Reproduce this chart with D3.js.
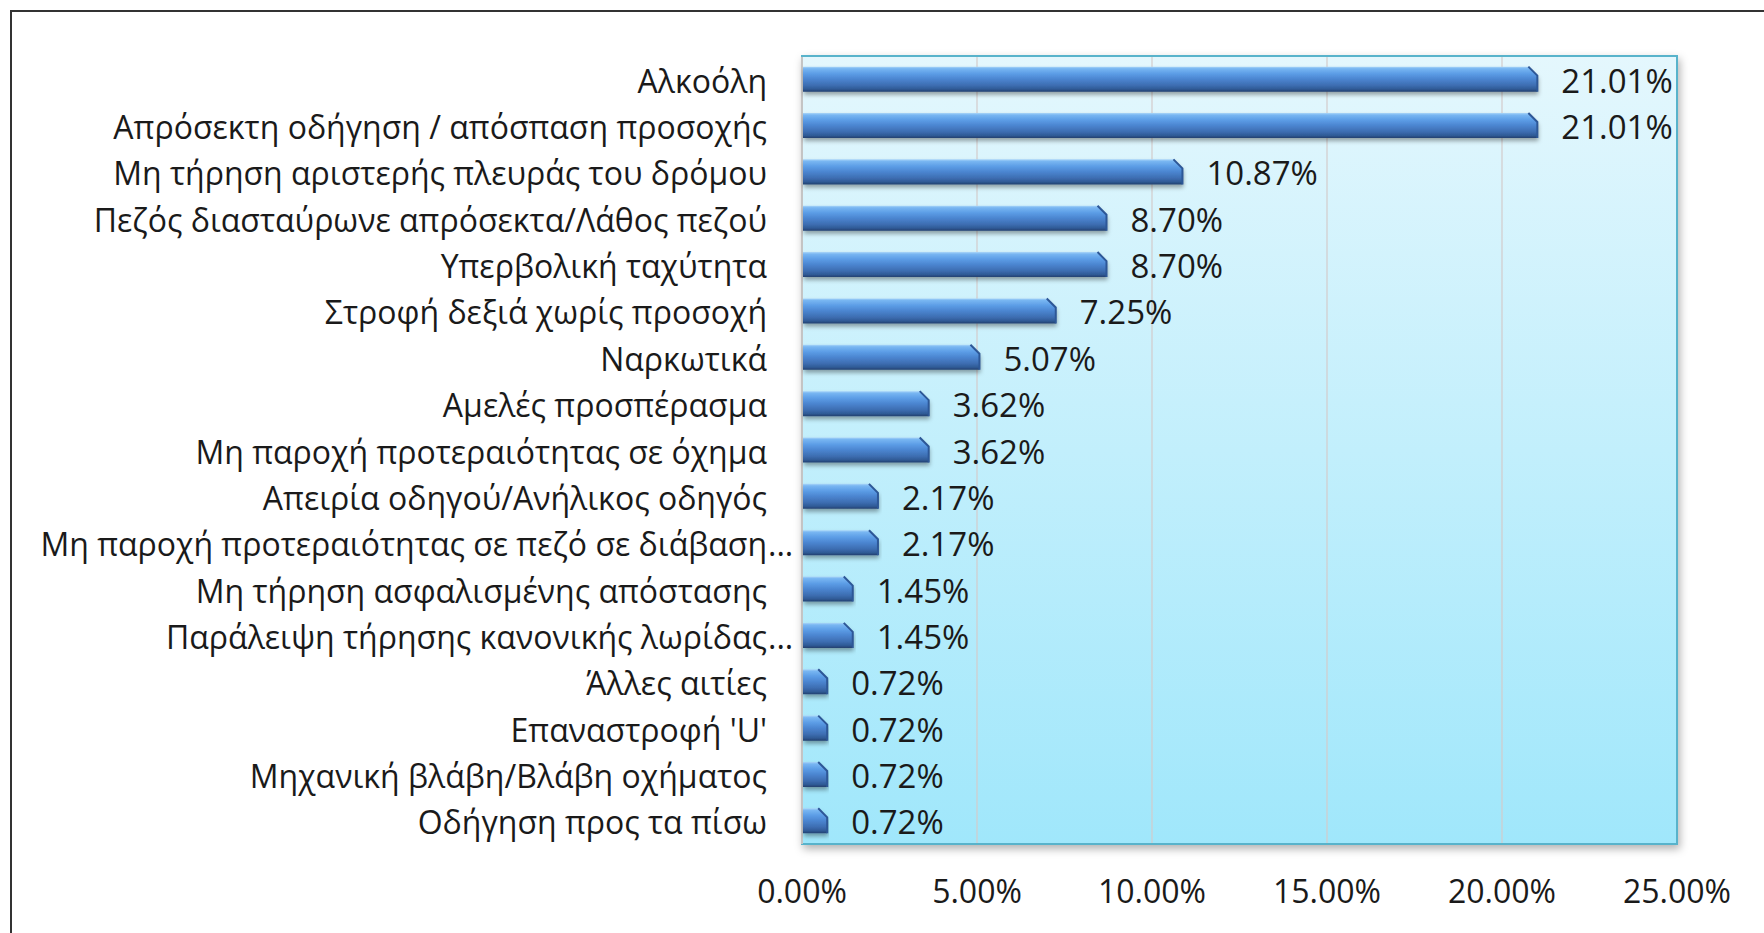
<!DOCTYPE html>
<html>
<head>
<meta charset="utf-8">
<script src="https://cdn.jsdelivr.net/npm/d3@7"></script>
<style>
  body { margin: 0; background: #fff; }
  text { font-family: "Open Sans", "Noto Sans", sans-serif; fill: #1a1a1a; }
</style>
</head>
<body>
<script>
// categories, top to bottom
var categories = [
  "Αλκοόλη",
  "Απρόσεκτη οδήγηση / απόσπαση προσοχής",
  "Μη τήρηση αριστερής πλευράς του δρόμου",
  "Πεζός διασταύρωνε απρόσεκτα/Λάθος πεζού",
  "Υπερβολική ταχύτητα",
  "Στροφή δεξιά χωρίς προσοχή",
  "Ναρκωτικά",
  "Αμελές προσπέρασμα",
  "Μη παροχή προτεραιότητας σε όχημα",
  "Απειρία οδηγού/Ανήλικος οδηγός",
  "Μη παροχή προτεραιότητας σε πεζό σε διάβαση...",
  "Μη τήρηση ασφαλισμένης απόστασης",
  "Παράλειψη τήρησης κανονικής λωρίδας...",
  "Άλλες αιτίες",
  "Επαναστροφή 'U'",
  "Μηχανική βλάβη/Βλάβη οχήματος",
  "Οδήγηση προς τα πίσω"
];

// share of accidents, in percent
var values = [21.01, 21.01, 10.87, 8.70, 8.70, 7.25, 5.07, 3.62, 3.62,
              2.17, 2.17, 1.45, 1.45, 0.72, 0.72, 0.72, 0.72];

var xTicks = [0, 5, 10, 15, 20, 25];

var data = categories.map(function(c, i) { return {name: c, value: values[i]}; });

// plot area
var W = 1764, H = 933;
var plotL = 802, plotR = 1677, plotT = 56, plotB = 844;

var x = d3.scaleLinear().domain([0, 25]).range([plotL, plotR]);
var y = d3.scaleBand().domain(categories).range([plotT, plotB]).paddingInner(0.46).paddingOuter(0.23);

var svg = d3.select("body").append("svg")
    .attr("width", W)
    .attr("height", H);

var defs = svg.append("defs");

// plot background gradient
var bg = defs.append("linearGradient").attr("id", "bg")
    .attr("x1", 0).attr("y1", 0).attr("x2", 0).attr("y2", 1);
bg.append("stop").attr("offset", "0%").attr("stop-color", "#e4f7fd");
bg.append("stop").attr("offset", "100%").attr("stop-color", "#a0e7fb");

// bar cylinder gradient
var bar = defs.append("linearGradient").attr("id", "bar")
    .attr("x1", 0).attr("y1", 0).attr("x2", 0).attr("y2", 1);
[["0%", "#a9d5f8"], ["8%", "#78b6f2"], ["28%", "#5c9de6"], ["50%", "#4b85d0"],
 ["75%", "#3d6db1"], ["90%", "#2f5a95"], ["100%", "#233f6e"]].forEach(function(s) {
  bar.append("stop").attr("offset", s[0]).attr("stop-color", s[1]);
});

var shadow = defs.append("filter").attr("id", "shadow")
    .attr("x", "-5%").attr("y", "-50%").attr("width", "110%").attr("height", "220%");
shadow.append("feDropShadow").attr("dx", 1).attr("dy", 3).attr("stdDeviation", 2)
    .attr("flood-color", "#000").attr("flood-opacity", 0.35);

var plotShadow = defs.append("filter").attr("id", "plotShadow")
    .attr("x", "-5%").attr("y", "-5%").attr("width", "110%").attr("height", "110%");
plotShadow.append("feDropShadow").attr("dx", 2).attr("dy", 4).attr("stdDeviation", 4)
    .attr("flood-color", "#000").attr("flood-opacity", 0.3);

// outer chart border (right and bottom run off the picture)
svg.append("rect")
    .attr("x", 11).attr("y", 11)
    .attr("width", W).attr("height", H)
    .style("fill", "none")
    .style("stroke", "#333")
    .style("stroke-width", 2);

// plot area
svg.append("rect")
    .attr("x", plotL).attr("y", plotT)
    .attr("width", plotR - plotL).attr("height", plotB - plotT)
    .style("fill", "url(#bg)")
    .style("stroke", "#58b3cb")
    .style("stroke-width", 2)
    .attr("filter", "url(#plotShadow)");

// gridlines
svg.append("g").selectAll("line")
    .data(xTicks.slice(1, -1))
    .enter().append("line")
    .attr("x1", function(d) { return x(d); })
    .attr("x2", function(d) { return x(d); })
    .attr("y1", plotT + 1).attr("y2", plotB - 1)
    .style("stroke", "#d3cccc")
    .style("stroke-width", 1.2);

// left axis line
svg.append("line")
    .attr("x1", plotL).attr("x2", plotL)
    .attr("y1", plotT + 1).attr("y2", plotB)
    .style("stroke", "#c4c4c4")
    .style("stroke-width", 2);

var bh = y.bandwidth();

// bars, with the top right corner bevelled off
var bars = svg.append("g").selectAll("g")
    .data(data)
    .enter().append("g");

function cut(d) { return Math.min(9, (x(d.value) - x(0)) / 2.5); }

bars.append("path")
    .attr("d", function(d) {
      var x0 = x(0) + 1, xe = x(d.value), y0 = y(d.name), y1 = y0 + bh, k = cut(d);
      return "M" + x0 + "," + y0 + "L" + (xe - k) + "," + y0 + "L" + xe + "," + (y0 + k) +
             "L" + xe + "," + y1 + "L" + x0 + "," + y1 + "Z";
    })
    .style("fill", "url(#bar)")
    .attr("filter", "url(#shadow)");

bars.append("path")
    .attr("d", function(d) {
      var xe = x(d.value), y0 = y(d.name), k = cut(d);
      return "M" + (xe - k) + "," + y0 + "L" + xe + "," + (y0 + k) + "L" + xe + "," + (y0 + bh);
    })
    .style("fill", "none")
    .style("stroke", "#2d5797")
    .style("stroke-width", 2);

// value labels
svg.append("g").selectAll("text")
    .data(data)
    .enter().append("text")
    .attr("x", function(d) { return x(d.value) + 24; })
    .attr("y", function(d) { return y(d.name) + bh / 2 + 1; })
    .attr("dominant-baseline", "central")
    .style("font-size", "33px")
    .text(function(d) { return d.value.toFixed(2) + "%"; });

// category labels (trailing ellipsis hangs past the right edge)
var cat = svg.append("g").selectAll("g")
    .data(data)
    .enter().append("g");

cat.append("text")
    .attr("x", 767)
    .attr("y", function(d) { return y(d.name) + bh / 2 + 1; })
    .attr("text-anchor", "end")
    .attr("dominant-baseline", "central")
    .style("font-size", "32px")
    .text(function(d) { return d.name.replace(/\.\.\.$/, ""); });

cat.filter(function(d) { return /\.\.\.$/.test(d.name); })
  .append("text")
    .attr("x", 768)
    .attr("y", function(d) { return y(d.name) + bh / 2 + 1; })
    .attr("dominant-baseline", "central")
    .style("font-size", "32px")
    .text("...");

// x axis labels
svg.append("g").selectAll("text")
    .data(xTicks)
    .enter().append("text")
    .attr("x", function(d) { return x(d); })
    .attr("y", 890)
    .attr("text-anchor", "middle")
    .attr("dominant-baseline", "central")
    .style("font-size", "32px")
    .text(function(d) { return d.toFixed(2) + "%"; });
</script>
</body>
</html>
